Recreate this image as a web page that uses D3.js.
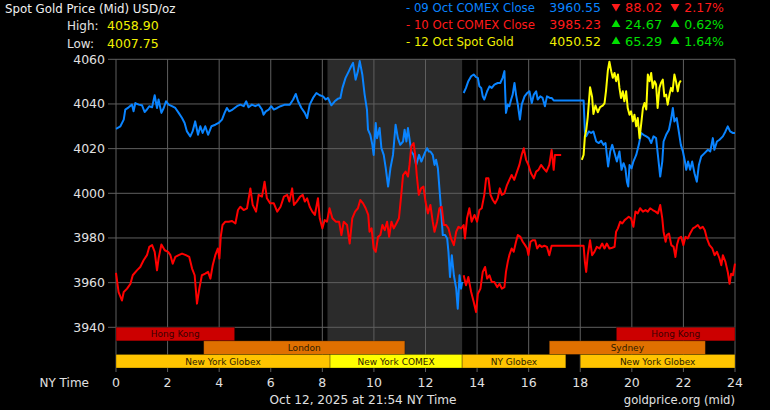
<!DOCTYPE html>
<html>
<head>
<meta charset="utf-8">
<script src="https://cdn.jsdelivr.net/npm/d3@7"></script>
<style>
body { margin: 0; background: #000; }
svg { display: block; }
text { font-family: "DejaVu Sans", Verdana, sans-serif; }
</style>
</head>
<body>
<div id="chart"></div>
<script>
// axis ticks
var hourTicks = [0, 2, 4, 6, 8, 10, 12, 14, 16, 18, 20, 22, 24];
var priceTicks = [3940, 3960, 3980, 4000, 4020, 4040, 4060];

// [hour of NY time, price]
var blueAM = [[0,4028.9],[0.17,4030],[0.3,4033],[0.36,4037.5],[0.49,4038.5],[0.62,4039.7],[0.68,4036.7],[0.75,4040.4],[0.88,4039.7],[1.01,4039.4],[1.11,4036.4],[1.2,4037.5],[1.29,4039],[1.4,4038.5],[1.5,4043.9],[1.59,4038.2],[1.65,4042],[1.76,4036],[1.85,4038.2],[1.94,4041.2],[2.04,4039.7],[2.17,4039],[2.3,4038.2],[2.43,4036],[2.56,4033.7],[2.66,4031.5],[2.75,4027.7],[2.88,4025.5],[2.97,4027.7],[3.07,4032.2],[3.18,4026.2],[3.27,4030],[3.36,4027],[3.46,4030],[3.57,4026.2],[3.7,4030],[3.85,4030.7],[3.98,4031.5],[4.11,4033],[4.21,4036],[4.3,4038.2],[4.39,4036.7],[4.52,4037.5],[4.69,4039],[4.82,4039.7],[4.95,4039],[5.05,4041.2],[5.14,4038.5],[5.27,4039.7],[5.4,4039],[5.53,4039.7],[5.66,4037.5],[5.72,4035.2],[5.81,4036.7],[5.92,4037.5],[6.02,4039],[6.12,4037.5],[6.25,4038.2],[6.38,4039],[6.55,4039.7],[6.74,4039.7],[6.87,4042],[6.97,4044.5],[7.06,4041.2],[7.19,4038.2],[7.32,4036],[7.41,4033.7],[7.51,4039.7],[7.64,4042.7],[7.77,4044.9],[7.9,4043.9],[8.03,4043.4],[8.13,4042],[8.22,4042.7],[8.35,4039.4],[8.48,4041.2],[8.61,4042.4],[8.7,4042.7],[8.78,4047.2],[8.9,4051.7],[9.03,4054.7],[9.12,4056.9],[9.19,4058.4],[9.29,4050.9],[9.38,4054.7],[9.45,4059.2],[9.55,4053.2],[9.64,4044.2],[9.73,4037.5],[9.77,4028.5],[9.86,4026.2],[9.94,4021.7],[9.99,4017.2],[10.07,4031.5],[10.12,4024.7],[10.22,4029.2],[10.29,4020.2],[10.38,4017.2],[10.46,4011.2],[10.55,4003],[10.64,4011.2],[10.74,4017.2],[10.84,4030.7],[10.93,4024.7],[11.02,4021.7],[11.13,4023.2],[11.19,4028.5],[11.26,4023.2],[11.32,4029.2],[11.45,4018.7],[11.54,4017.2],[11.64,4012.7],[11.75,4017.2],[11.84,4014.2],[11.97,4018],[12.06,4020.2],[12.13,4018.7],[12.19,4018.7],[12.28,4017.2],[12.35,4012.7],[12.41,4015],[12.48,4011.2],[12.54,4002.2],[12.6,3993.3],[12.67,3981.3],[12.76,3981.3],[12.84,3979.8],[12.89,3973.8],[12.95,3962.5],[13.02,3972.3],[13.1,3963.3],[13.19,3957.3],[13.25,3948.3],[13.32,3963.3],[13.38,3957.3],[13.42,3960.3]];

var bluePM = [[13.48,4044.9],[13.57,4047.2],[13.66,4050.2],[13.77,4052.4],[13.87,4053.2],[13.96,4052],[14.03,4051.7],[14.09,4047.9],[14.16,4047.2],[14.22,4043.4],[14.28,4042],[14.39,4045.7],[14.48,4047.9],[14.57,4047.2],[14.67,4048.7],[14.8,4049.4],[14.9,4049.4],[14.99,4051.7],[15.06,4054.7],[15.12,4036],[15.19,4039.7],[15.25,4039],[15.32,4042],[15.38,4044.2],[15.45,4049.4],[15.51,4044.2],[15.58,4039.7],[15.66,4033],[15.73,4039.7],[15.84,4043.4],[15.94,4044.9],[16.03,4045.7],[16.12,4040.4],[16.2,4044.2],[16.29,4045.7],[16.35,4042],[16.45,4043.4],[16.54,4042.7],[16.63,4039],[16.71,4043.4],[16.82,4042.7],[16.89,4042.7],[16.97,4041.6],[18.13,4041.6],[18.18,4027.7],[18.23,4025.5],[18.33,4027.7],[18.42,4027],[18.51,4027.7],[18.62,4023.2],[18.72,4022.5],[18.81,4023.5],[18.9,4021.7],[18.98,4022.5],[19.03,4017.2],[19.08,4012],[19.16,4018.7],[19.24,4021.7],[19.33,4018],[19.42,4014.2],[19.52,4018.7],[19.6,4010.5],[19.68,4013.5],[19.75,4011.2],[19.81,4005.2],[19.86,4003],[19.91,4012.7],[19.99,4011.2],[20.06,4014.2],[20.17,4017.2],[20.27,4021.7],[20.36,4027],[20.45,4026.2],[20.56,4025.5],[20.66,4024.7],[20.75,4022.5],[20.84,4025.5],[20.94,4024.7],[21.01,4017.2],[21.1,4007.5],[21.18,4014.2],[21.23,4023.2],[21.33,4026.2],[21.44,4028.5],[21.53,4033.7],[21.59,4038.2],[21.65,4032.2],[21.74,4033.7],[21.82,4027.7],[21.9,4021.7],[21.98,4018.7],[22.06,4014.2],[22.11,4010.5],[22.18,4014.2],[22.26,4010.5],[22.34,4014.2],[22.43,4009],[22.52,4005.2],[22.6,4012.7],[22.69,4016.5],[22.82,4018],[22.95,4019.5],[23.04,4018.7],[23.14,4024.7],[23.2,4019.5],[23.3,4023.2],[23.4,4024],[23.53,4025.5],[23.63,4027.7],[23.72,4030],[23.81,4027.7],[23.92,4027],[24,4027]];

var redAM = [[0,3964.4],[0.1,3955.8],[0.23,3952],[0.3,3955.8],[0.43,3957.3],[0.56,3959.5],[0.65,3963.3],[0.81,3965.5],[0.94,3967],[1.07,3970],[1.2,3972.3],[1.29,3976],[1.4,3976.8],[1.5,3973.8],[1.59,3965.5],[1.65,3970.8],[1.76,3977.1],[1.89,3974.5],[2.02,3973.8],[2.11,3972.3],[2.2,3968.5],[2.3,3971.5],[2.43,3972.3],[2.56,3973],[2.71,3972.3],[2.84,3971.5],[2.95,3966.3],[3.05,3963.3],[3.14,3950.6],[3.23,3957.3],[3.33,3963.3],[3.46,3964],[3.57,3964.8],[3.66,3961.8],[3.75,3967.8],[3.85,3972.3],[3.95,3975.3],[4.01,3970.8],[4.06,3980.5],[4.13,3985.8],[4.24,3987.3],[4.37,3987.3],[4.5,3987.6],[4.63,3986.5],[4.73,3992.5],[4.82,3994],[4.95,3992.5],[5.08,3993.3],[5.21,4002.2],[5.3,3994.8],[5.43,3991.8],[5.53,3999.3],[5.66,3998.5],[5.76,4005.2],[5.85,3997.8],[5.98,3995.5],[6.12,3995.5],[6.25,3991.8],[6.38,3994],[6.51,3998.5],[6.64,3999.3],[6.72,3996.3],[6.83,4002.2],[6.9,3994.8],[7.01,3996.3],[7.14,3998.5],[7.24,3999.3],[7.32,3996.3],[7.41,3997.8],[7.51,3994],[7.61,3991.8],[7.71,3990.3],[7.83,3997.8],[7.9,3988.8],[8,3984.3],[8.09,3988],[8.18,3987.3],[8.28,3993.3],[8.39,3988.8],[8.52,3987.3],[8.65,3987.3],[8.74,3981.3],[8.83,3987.3],[8.96,3985.8],[9.06,3977.5],[9.16,3988.8],[9.27,3991.8],[9.38,3993.3],[9.47,3997],[9.58,3995.5],[9.68,3993.3],[9.78,3990.3],[9.83,3982.8],[9.91,3984.3],[9.99,3975.3],[10.07,3973.8],[10.16,3980.5],[10.25,3981.3],[10.33,3985.8],[10.42,3983.5],[10.51,3987.3],[10.59,3980.5],[10.68,3987.3],[10.77,3984.3],[10.87,3986.5],[10.97,3988.8],[11.06,3999.3],[11.13,4008.2],[11.23,4009.7],[11.32,4007.5],[11.38,4012.7],[11.45,4021],[11.54,4022.5],[11.6,4017.2],[11.66,4008.2],[11.74,3999.3],[11.83,4002.2],[11.92,4003],[12,3996.3],[12.09,3991],[12.19,3994.8],[12.28,3987.3],[12.35,3982.8],[12.45,3987.3],[12.54,3993.3],[12.63,3994],[12.71,3985.8],[12.8,3985.8],[12.89,3984.3],[12.99,3979.8],[13.1,3976.8],[13.19,3982.8],[13.28,3985],[13.38,3984.3],[13.48,3985.8],[13.53,3979.8],[13.61,3988.8],[13.7,3993.3],[13.79,3987.3],[13.9,3990.3],[14,3987.3],[14.09,3992.5],[14.18,3993.3],[14.28,3999.3],[14.35,4006.7],[14.44,4006.7],[14.52,3999.3],[14.61,3997],[14.7,3995.5],[14.8,3997.8],[14.88,4002.2],[14.96,3999.3],[15.06,4000],[15.16,4003.7],[15.25,4006],[15.34,4008.2],[15.44,4006],[15.55,4009.7],[15.64,4012.7],[15.73,4017.2],[15.81,4020.2],[15.9,4015],[15.99,4012.7],[16.09,4009],[16.2,4006.7],[16.29,4009.7],[16.38,4010.5],[16.48,4012.7],[16.58,4011.2],[16.69,4009.7],[16.8,4012.7],[16.89,4019.4],[16.97,4010.5],[17.02,4017.2],[17.26,4017.2]];

var redPM = [[13.48,3963.3],[13.57,3958.8],[13.66,3962.5],[13.77,3955.8],[13.87,3951.3],[13.96,3946.8],[14.03,3955],[14.13,3957.3],[14.22,3964.8],[14.31,3967],[14.39,3961.8],[14.48,3963.3],[14.57,3960.3],[14.67,3960.3],[14.78,3958],[14.87,3959.5],[14.96,3957.3],[15.06,3958],[15.12,3964.8],[15.19,3969.3],[15.25,3972.3],[15.34,3975.3],[15.42,3973.8],[15.51,3978.3],[15.58,3981.3],[15.68,3980.5],[15.77,3978.3],[15.86,3976.8],[15.94,3975.3],[15.99,3972.3],[16.07,3978.3],[16.16,3979],[16.25,3979],[16.33,3975.3],[16.42,3976.8],[16.51,3976],[16.61,3976.5],[16.71,3976],[16.8,3972.3],[16.89,3976.5],[18.13,3976.5],[18.18,3969.3],[18.23,3964.8],[18.29,3972.3],[18.38,3979],[18.46,3972.3],[18.55,3973.8],[18.64,3976],[18.75,3975.3],[18.85,3977.5],[18.94,3975.3],[19.03,3977.5],[19.13,3975.3],[19.24,3975.6],[19.33,3976],[19.39,3982.8],[19.46,3984.3],[19.55,3987.3],[19.63,3986.5],[19.72,3988],[19.81,3988.8],[19.88,3989.5],[19.97,3988.8],[20.06,3985],[20.14,3991.8],[20.23,3991],[20.32,3993.3],[20.43,3991.8],[20.53,3992.5],[20.62,3991.8],[20.71,3993.3],[20.81,3992.5],[20.92,3991.8],[21.01,3991],[21.1,3994.8],[21.18,3988.8],[21.23,3982.8],[21.31,3978.3],[21.36,3981.3],[21.44,3982],[21.53,3976.8],[21.62,3976],[21.69,3971.5],[21.75,3976.8],[21.82,3979.8],[21.91,3980.5],[22,3976.8],[22.08,3980.5],[22.17,3979.8],[22.26,3982],[22.37,3984.3],[22.47,3985],[22.56,3985.8],[22.65,3984.3],[22.75,3985],[22.83,3983.5],[22.91,3979.8],[23.01,3976.8],[23.12,3975.3],[23.21,3972.3],[23.3,3973.8],[23.4,3970.8],[23.47,3967.8],[23.53,3972.3],[23.63,3969.3],[23.72,3964.8],[23.79,3959.5],[23.85,3964],[23.92,3963.3],[24,3968.5]];

var yellowSpot = [[18.06,4015],[18.13,4017.2],[18.18,4025.5],[18.23,4028.1],[18.29,4034],[18.38,4047.5],[18.46,4043.1],[18.51,4035.5],[18.59,4039.3],[18.68,4036.3],[18.77,4038.6],[18.87,4039.3],[18.94,4040.3],[19,4046],[19.07,4055],[19.13,4058.9],[19.2,4054.7],[19.26,4051.7],[19.33,4053.9],[19.39,4050.2],[19.46,4053.2],[19.52,4047.2],[19.58,4042.7],[19.65,4045.7],[19.71,4041.2],[19.78,4045.7],[19.84,4038.2],[19.91,4035.2],[19.97,4036.7],[20.04,4032.2],[20.1,4035.2],[20.17,4030],[20.23,4033.7],[20.3,4024.7],[20.36,4030.7],[20.43,4038.2],[20.49,4040.4],[20.56,4037.5],[20.62,4053.2],[20.69,4050.2],[20.75,4053.9],[20.81,4047.2],[20.88,4050.2],[20.94,4048.7],[21,4038.2],[21.07,4047.2],[21.13,4049.4],[21.2,4050.9],[21.26,4043.4],[21.33,4044.2],[21.39,4039.7],[21.46,4044.2],[21.52,4047.2],[21.58,4045.7],[21.65,4053.2],[21.71,4050.2],[21.78,4045.7],[21.84,4049.4],[21.9,4050.52]];

// trading sessions: row, name, start hour, end hour
var sessions = [
  [0, "Hong Kong", 0, 4.6], [0, "Hong Kong", 19.4, 24],
  [1, "London", 3.4, 11.2], [1, "Sydney", 16.8, 22.85],
  [2, "New York Globex", 0, 8.3], [2, "New York COMEX", 8.3, 13.42],
  [2, "NY Globex", 13.42, 17.44], [2, "New York Globex", 18, 24]
];
var comexHours = [8.2, 13.42];

// label, last price, change, change %, direction
var legendRows = [
  ["- 09 Oct COMEX Close", "3960.55", "88.02", "2.17%", -1],
  ["- 10 Oct COMEX Close", "3985.23", "24.67", "0.62%", 1],
  ["- 12 Oct Spot Gold", "4050.52", "65.29", "1.64%", 1]
];
var highLow = [["High:", "4058.90"], ["Low:", "4007.75"]];

var W = 770, H = 410;
var svg = d3.select("#chart").append("svg").attr("width", W).attr("height", H)
  .style("background", "#000");

var x = d3.scaleLinear().domain([0, 24]).range([116, 735]);
var y = d3.scaleLinear().domain([3940, 4060]).range([327.3, 59.3]);
var rowScale = d3.scaleBand().domain([0, 1, 2]).range([327.3, 368]);

// COMEX shading
svg.append("rect")
  .attr("x", x(comexHours[0])).attr("y", y(4060))
  .attr("width", x(comexHours[1]) - x(comexHours[0]))
  .attr("height", 368 - y(4060))
  .attr("fill", "#2b2b2b");

// grid
svg.selectAll(".hgrid").data(priceTicks).enter().append("line")
  .attr("x1", 108).attr("x2", x(24))
  .attr("y1", d => y(d)).attr("y2", d => y(d))
  .attr("stroke", "#5f5f5f").attr("stroke-width", 1);
svg.selectAll(".vgrid").data(hourTicks).enter().append("line")
  .attr("x1", d => x(d)).attr("x2", d => x(d))
  .attr("y1", y(4060)).attr("y2", 372)
  .attr("stroke", "#5f5f5f").attr("stroke-width", 1);

// sessions
var sessColor = function(name) {
  if (name === "Hong Kong") return "#cc0000";
  if (name === "London" || name === "Sydney") return "#e07000";
  if (name === "New York COMEX") return "#ffff00";
  return "#ffc400";
};
var sess = svg.selectAll(".sess").data(sessions).enter().append("g");
sess.append("rect")
  .attr("x", d => x(d[2])).attr("y", d => rowScale(d[0]))
  .attr("width", d => x(d[3]) - x(d[2]))
  .attr("height", rowScale.bandwidth())
  .attr("fill", d => sessColor(d[1]))
  .attr("stroke", "rgba(0,0,0,0.35)").attr("stroke-width", 0.8);
sess.append("text")
  .attr("x", d => (x(d[2]) + x(d[3])) / 2)
  .attr("y", d => rowScale(d[0]) + rowScale.bandwidth() / 2 + 3.3)
  .attr("text-anchor", "middle")
  .attr("font-size", "9px")
  .attr("fill", d => d[1] === "Hong Kong" ? "#3a0000" : "#2e1c00")
  .text(d => d[1]);

// price lines
var line = d3.line().x(d => x(d[0])).y(d => y(d[1]));
[[blueAM, "#0a84ff"], [bluePM, "#0a84ff"], [redAM, "#ff0000"], [redPM, "#ff0000"], [yellowSpot, "#ffff00"]]
  .forEach(function(s) {
    svg.append("path").datum(s[0]).attr("d", line)
      .attr("fill", "none").attr("stroke", s[1])
      .attr("stroke-width", 2).attr("stroke-linejoin", "round");
  });

// axis labels
svg.selectAll(".ylab").data(priceTicks).enter().append("text")
  .attr("x", 105).attr("y", d => y(d) + 4.5)
  .attr("text-anchor", "end").attr("font-size", "12.5px").attr("fill", "#e0e0e0")
  .text(d => d);
svg.selectAll(".xlab").data(hourTicks).enter().append("text")
  .attr("x", d => x(d)).attr("y", 387)
  .attr("text-anchor", "middle").attr("font-size", "12.5px").attr("fill", "#e0e0e0")
  .text(d => d);
svg.append("text").attr("x", 89).attr("y", 387).attr("text-anchor", "end")
  .attr("font-size", "12px").attr("fill", "#e0e0e0").text("NY Time");
svg.append("text").attr("x", 363).attr("y", 404).attr("text-anchor", "middle")
  .attr("font-size", "12.1px").attr("fill", "#e0e0e0").text("Oct 12, 2025 at 21:54 NY Time");
svg.append("text").attr("x", 735).attr("y", 404).attr("text-anchor", "end")
  .attr("font-size", "11.6px").attr("fill", "#e0e0e0").text("goldprice.org (mid)");

// header
svg.append("text").attr("x", 5).attr("y", 12.5).attr("font-size", "11.8px")
  .attr("fill", "#f0f0f0").text("Spot Gold Price (Mid) USD/oz");
highLow.forEach(function(r, i) {
  svg.append("text").attr("x", 67).attr("y", 29.5 + i * 18).attr("font-size", "12px")
    .attr("fill", "#e0e0e0").text(r[0]);
  svg.append("text").attr("x", 107).attr("y", 29.5 + i * 18).attr("font-size", "12.5px")
    .attr("fill", "#f0f000").text(r[1]);
});

// legend
var legendColors = ["#0a84ff", "#ff1a1a", "#f0f000"];
var triUp = d3.symbol(d3.symbolTriangle, 34);
legendRows.forEach(function(r, i) {
  var cy = 7 + i * 17;
  var by = cy + 4.5;
  var chg = r[4] < 0 ? "#ff1a1a" : "#00e000";
  svg.append("text").attr("x", 406).attr("y", by).attr("font-size", "11.7px")
    .attr("fill", legendColors[i]).text(r[0]);
  svg.append("text").attr("x", 601).attr("y", by).attr("text-anchor", "end")
    .attr("font-size", "12.5px").attr("fill", legendColors[i]).text(r[1]);
  [616, 675].forEach(function(tx) {
    svg.append("path").attr("d", triUp())
      .attr("transform", "translate(" + tx + "," + (cy + (r[4] < 0 ? -0.5 : 0.5)) + ")" + (r[4] < 0 ? " rotate(180)" : ""))
      .attr("fill", chg);
  });
  svg.append("text").attr("x", 625).attr("y", by)
    .attr("font-size", "13px").attr("fill", chg).text(r[2]);
  svg.append("text").attr("x", 724).attr("y", by).attr("text-anchor", "end")
    .attr("font-size", "12.5px").attr("fill", chg).text(r[3]);
});
</script>
</body>
</html>
